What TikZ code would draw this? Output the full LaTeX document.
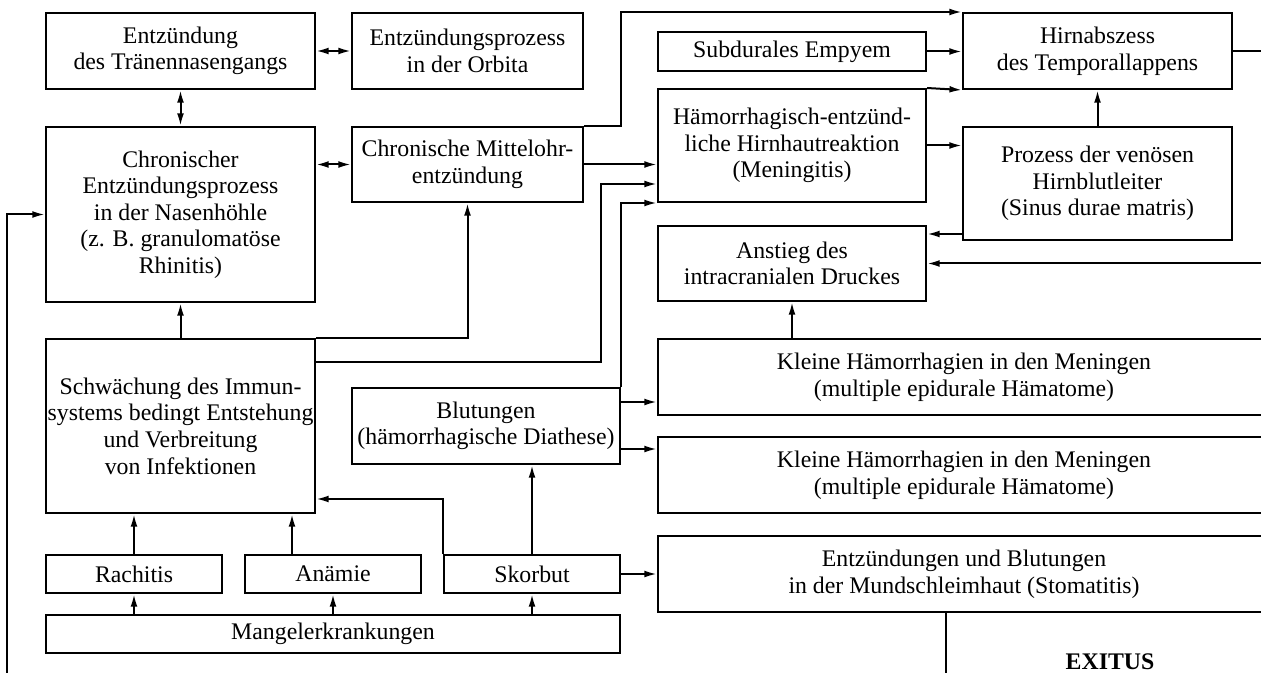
\documentclass[tikz,border=0pt]{standalone}
\usepackage{fontspec}
\setmainfont{Liberation Serif}
\usetikzlibrary{arrows.meta}
\begin{document}
\begin{tikzpicture}[x=0.5pt,y=-0.5pt,
  box/.style={draw, line width=1pt, inner sep=0pt, align=center, font=\fontsize{11.9}{13.3}\selectfont},
  arr/.style={line width=1pt, -{Latex[length=6.3pt,width=3.4pt]}},
  darr/.style={line width=1pt, {Latex[length=6.3pt,width=3.4pt]}-{Latex[length=6.3pt,width=3.4pt]}},
  ln/.style={line width=1pt}]
\useasboundingbox (0,0) rectangle (1261,673);
% left column
\node[box, minimum width=134.5pt, minimum height=38pt] (tran) at (180.5,51) {Entzündung\\des Tränennasengangs};
\node[box, minimum width=115.5pt, minimum height=38pt] (orb) at (467.5,51) {Entzündungsprozess\\in der Orbita};
\node[box, minimum width=134.5pt, minimum height=87.5pt] (chron) at (180.5,214.5) {Chronischer\\Entzündungsprozess\\in der Nasenhöhle\\(z. B. granulomatöse\\Rhinitis)};
\node[box, minimum width=115.5pt, minimum height=37.5pt] (mittel) at (467.5,164.5) {Chronische Mittelohr-\\entzündung};
\node[box, minimum width=134.5pt, minimum height=87pt] (schw) at (180.5,426) {Schwächung des Immun-\\systems bedingt Entstehung\\und Verbreitung\\von Infektionen};
\node[box, minimum width=134pt, minimum height=38pt] (blut) at (486,426) {Blutungen\\(hämorrhagische Diathese)};
\node[box, minimum width=88pt, minimum height=19pt] (rach) at (134,574) {Rachitis};
\node[box, minimum width=88pt, minimum height=19pt] (anae) at (333,574) {Anämie};
\node[box, minimum width=88pt, minimum height=19pt] (skor) at (532,574) {Skorbut};
\node[box, minimum width=287pt, minimum height=19pt] (mangel) at (333,634) {Mangelerkrankungen};
% right part
\node[box, minimum width=134pt, minimum height=19.5pt] (subd) at (792,51.5) {Subdurales Empyem};
\node[box, minimum width=134pt, minimum height=56.5pt] (men) at (792,145.5) {Hämorrhagisch-entzünd-\\liche Hirnhautreaktion\\(Meningitis)};
\node[box, minimum width=134.5pt, minimum height=38pt] (hirn) at (1097.5,51) {Hirnabszess\\des Temporallappens};
\node[box, minimum width=134.5pt, minimum height=56.5pt] (proz) at (1097.5,183.5) {Prozess der venösen\\Hirnblutleiter\\(Sinus durae matris)};
\node[box, minimum width=134pt, minimum height=37.5pt] (anst) at (792,263.5) {Anstieg des\\intracranialen Druckes};
\node[box, minimum width=306pt, minimum height=38pt] (klein1) at (964,377) {Kleine Hämorrhagien in den Meningen\\(multiple epidurale Hämatome)};
\node[box, minimum width=306pt, minimum height=38pt] (klein2) at (964,475) {Kleine Hämorrhagien in den Meningen\\(multiple epidurale Hämatome)};
\node[box, minimum width=306pt, minimum height=38pt] (stom) at (964,574) {Entzündungen und Blutungen\\in der Mundschleimhaut (Stomatitis)};
\node[font=\fontsize{11.9}{13.3}\selectfont\bfseries, inner sep=0pt] (exitus) at (1110,662) {EXITUS};
% coordinates
\coordinate (l0) at (7,690);
\coordinate (e0) at (946,690);
\coordinate (r1) at (1275,263.5);
\coordinate (r2) at (1275,51);
\coordinate (m2) at ([yshift=9.5pt]men.south west);
\coordinate (s1) at ([yshift=-12pt]schw.north east);
\coordinate (b1) at ([yshift=-7.5pt]blut.north east);
\coordinate (b2) at ([yshift=8pt]blut.south east);
\coordinate (a1) at ([xshift=-20.5pt]anae.north);
\coordinate (p1) at ([yshift=3.5pt]proz.south west);
% connectors
\draw[darr] (tran) -- (orb);
\draw[darr] (tran) -- (chron);
\draw[darr] (mittel.west -| chron.east) -- (mittel.west);
\draw[arr] (mittel.east) -- (men.west |- mittel.east);
\draw[arr] (mittel.north east) -- ++(37,0) |- (hirn.north west);
\draw[arr] (subd.east) -- (hirn.west |- subd.east);
\draw[arr] (men.north east) -- (hirn.south west);
\draw[arr] (men.east) -- (proz.west |- men.east);
\draw[arr] (proz.north) -- (hirn.south);
\draw[arr] (p1) -- (p1 -| anst.east);
\draw[arr] (r1) -- (anst.east);
\draw[ln] (hirn.east |- r2) -- (r2);
\draw[arr] (anst.south |- klein1.north) -- (anst.south);
\draw[arr] (schw.north east) -| (mittel.south);
\draw[arr] (s1) -| ([xshift=-28pt]m2) -- (m2);
\draw[arr] (blut.north east) |- (men.south west);
\draw[arr] (b1) -- (b1 -| klein1.west);
\draw[arr] (b2) -- (b2 -| klein2.west);
\draw[arr] (schw.north) -- (chron.south);
\draw[arr] (rach.north) -- (rach.north |- schw.south);
\draw[arr] (a1) -- (a1 |- schw.south);
\draw[arr] (skor.north) -- (skor.north |- blut.south);
\draw[arr] (skor.north west) |- ([yshift=7.5pt]schw.south east);
\draw[arr] (skor.east) -- (skor.east -| stom.west);
\draw[arr] (rach.south |- mangel.north) -- (rach.south);
\draw[arr] (anae.south |- mangel.north) -- (anae.south);
\draw[arr] (skor.south |- mangel.north) -- (skor.south);
\draw[arr] (l0) |- (chron.west);
\draw[ln] (stom.south -| e0) -- (e0);
\end{tikzpicture}
\end{document}
